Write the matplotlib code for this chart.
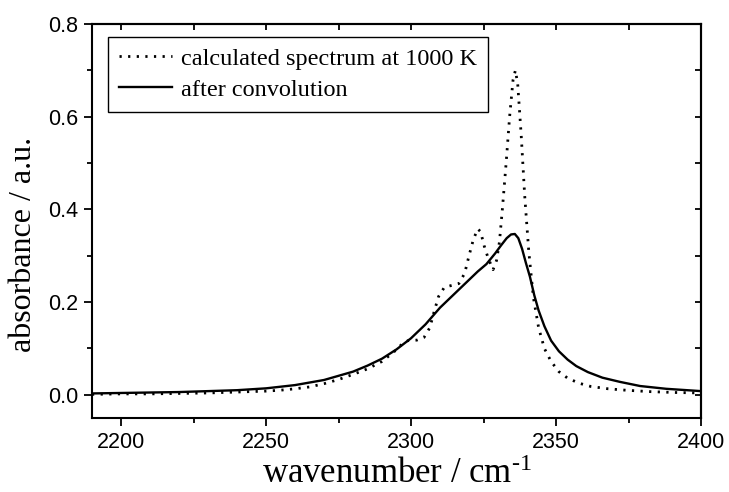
import numpy as np
import matplotlib
matplotlib.use('Agg')
import matplotlib.pyplot as plt
from matplotlib.ticker import MultipleLocator, FormatStrFormatter

plt.rcParams['font.family'] = ['Liberation Sans', 'DejaVu Sans']
plt.rcParams['mathtext.fontset'] = 'custom'
plt.rcParams['mathtext.rm'] = 'Liberation Serif'
plt.rcParams['mathtext.it'] = 'Liberation Serif:italic'

# calculated spectrum at 1000 K (dotted)
calc_x = [2190, 2200, 2210, 2220, 2230, 2240, 2250, 2255, 2260, 2265, 2270, 2275, 2280, 2285, 2290,
          2294, 2297, 2299, 2302, 2304.5, 2306.5, 2308, 2309.5, 2311.5, 2314, 2316.5, 2318.5, 2320,
          2321.5, 2323, 2324, 2325.2, 2326.6, 2328.3, 2329.5, 2330.5, 2331.5, 2332.8, 2334, 2335.2,
          2336, 2336.8, 2338, 2339.2, 2340.6, 2342.2, 2344, 2346, 2348.3, 2351, 2354, 2358, 2362,
          2368, 2374, 2382, 2391, 2400]
calc_y = [0.001, 0.002, 0.002, 0.003, 0.004, 0.006, 0.008, 0.010, 0.013, 0.017, 0.024, 0.033, 0.044,
          0.056, 0.072, 0.092, 0.110, 0.117, 0.118, 0.124, 0.145, 0.180, 0.212, 0.232, 0.236, 0.240,
          0.262, 0.300, 0.335, 0.358, 0.352, 0.322, 0.295, 0.270, 0.290, 0.330, 0.400, 0.500, 0.600,
          0.680, 0.700, 0.670, 0.560, 0.430, 0.310, 0.210, 0.145, 0.100, 0.072, 0.050, 0.036, 0.025,
          0.018, 0.013, 0.010, 0.007, 0.005, 0.004]

# after convolution (solid)
conv_x = [2190, 2200, 2210, 2220, 2230, 2240, 2250, 2260, 2270, 2280, 2285, 2290, 2295, 2300, 2305,
          2310, 2315, 2320, 2323, 2326, 2329, 2331, 2333, 2334.5, 2335.8, 2337, 2338.3, 2339.6, 2341,
          2342.5, 2344, 2346, 2348.3, 2351, 2354, 2357, 2361, 2366, 2372, 2379, 2388, 2400]
conv_y = [0.003, 0.004, 0.005, 0.006, 0.008, 0.010, 0.014, 0.021, 0.032, 0.050, 0.063, 0.078, 0.098,
          0.122, 0.152, 0.188, 0.218, 0.248, 0.266, 0.282, 0.305, 0.322, 0.338, 0.346, 0.347, 0.338,
          0.315, 0.285, 0.255, 0.215, 0.182, 0.148, 0.117, 0.094, 0.076, 0.062, 0.049, 0.037, 0.028,
          0.019, 0.013, 0.008]

legend_labels = ['calculated spectrum at 1000 K', 'after convolution']

fig = plt.figure(figsize=(7.29, 4.92), dpi=100)
ax = fig.add_axes([0.1262, 0.1504, 0.8354, 0.8008])

ax.plot(calc_x, calc_y, color='black', lw=2.0, linestyle=(0, (0.8, 2.3)), label=legend_labels[0])
ax.plot(conv_x, conv_y, color='black', lw=1.7, label=legend_labels[1])

ax.set_xlim(2190, 2400)
ax.set_ylim(-0.05, 0.8)

ax.xaxis.set_major_locator(MultipleLocator(50))
ax.xaxis.set_minor_locator(MultipleLocator(25))
ax.yaxis.set_major_locator(MultipleLocator(0.2))
ax.yaxis.set_minor_locator(MultipleLocator(0.1))
ax.yaxis.set_major_formatter(FormatStrFormatter('%.1f'))
ax.tick_params(which='major', direction='out', length=6, width=1.3, labelsize=15.5, pad=4)
ax.tick_params(which='minor', direction='out', length=3.5, width=1.3)

# ticks pointing inward on top and right
top = ax.secondary_xaxis('top')
top.xaxis.set_major_locator(MultipleLocator(50))
top.xaxis.set_minor_locator(MultipleLocator(25))
top.tick_params(which='both', direction='in', length=4, width=1.3, labeltop=False)
right = ax.secondary_yaxis('right')
right.yaxis.set_major_locator(MultipleLocator(0.2))
right.yaxis.set_minor_locator(MultipleLocator(0.1))
right.tick_params(which='both', direction='in', length=4, width=1.3, labelright=False)

for s in ax.spines.values():
    s.set_linewidth(1.5)
top.spines['top'].set_linewidth(1.5)
right.spines['right'].set_linewidth(1.5)

ax.set_xlabel('wavenumber / cm$^{\\text{-1}}$', family='Liberation Serif', fontsize=25, labelpad=4)
ax.set_ylabel('absorbance / a.u.', family='Liberation Serif', fontsize=23)
ax.yaxis.set_label_coords(-0.088, 0.44)

leg = ax.legend(loc='upper left', bbox_to_anchor=(0.026, 0.967), borderaxespad=0,
                prop={'family': 'Liberation Serif', 'size': 17.5}, fancybox=False,
                edgecolor='black', framealpha=1, handlelength=2.2, handletextpad=0.35,
                labelspacing=0.36, borderpad=0.45)
leg.get_frame().set_linewidth(1.0)

fig.savefig('out.png', dpi=100)
